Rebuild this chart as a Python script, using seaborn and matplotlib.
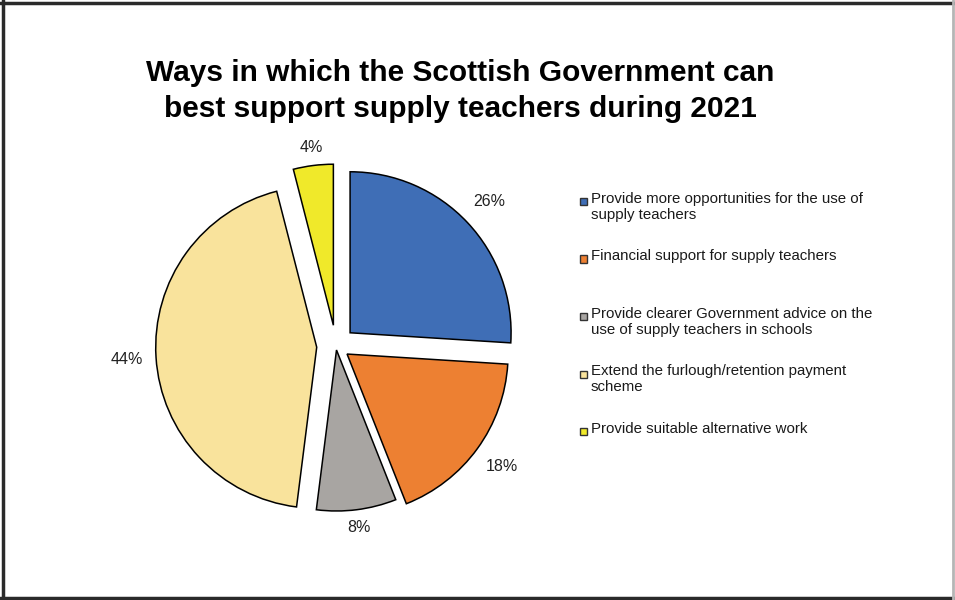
import matplotlib
matplotlib.use("Agg")
import numpy as np
import matplotlib.pyplot as plt
from matplotlib.patches import Rectangle
from matplotlib.lines import Line2D
import seaborn as sns

# ---- data ----
categories = [
    "Provide more opportunities for the use of\nsupply teachers",
    "Financial support for supply teachers",
    "Provide clearer Government advice on the\nuse of supply teachers in schools",
    "Extend the furlough/retention payment\nscheme",
    "Provide suitable alternative work",
]
values = [26, 18, 8, 44, 4]
colors = ["#3F6EB6", "#ED8032", "#A8A5A2", "#F9E39C", "#F0E92A"]
explode = [0.12, 0.085, 0.025, 0.12, 0.13]
label_dist = [1.19, 1.19, 1.11, 1.18, 1.11]
title = "Ways in which the Scottish Government can\nbest support supply teachers during 2021"

sns.set_theme(style="white")
plt.rcParams["font.family"] = ["Liberation Sans", "DejaVu Sans"]

W, H = 955, 600
fig = plt.figure(figsize=(W / 100, H / 100), dpi=100)
ax = fig.add_axes([0, 0, 1, 1])

palette = sns.color_palette(colors)
wedges, texts, autotexts = ax.pie(
    values, colors=palette, explode=explode, startangle=90, counterclock=False,
    autopct=lambda p: f"{p:.0f}%", pctdistance=1.17, radius=1,
    wedgeprops=dict(edgecolor="black", linewidth=1.1),
    textprops=dict(fontsize=11.5, color="#222222"),
)
# per-slice label distance, measured from each wedge's own apex
for w, t, d in zip(wedges, autotexts, label_dist):
    ang = np.deg2rad((w.theta1 + w.theta2) / 2)
    t.set_position((w.center[0] + d * w.r * np.cos(ang),
                    w.center[1] + d * w.r * np.sin(ang)))

# map pixel space: pie centre at (336, 346) px, radius 161 px
cx, cy, r = 336, 346, 161
ax.set_xlim(-cx / r, (W - cx) / r)
ax.set_ylim(-(H - cy) / r, cy / r)
ax.set_aspect("auto")
ax.axis("off")

fig.text(460 / W, 1 - 91 / H, title, ha="center", va="center",
         fontsize=21.5, fontweight="bold", color="black", linespacing=1.32)

# legend (first line of each entry evenly spaced)
y0 = 201
step = 57.5
for i, (lab, col) in enumerate(zip(categories, palette)):
    y = y0 + i * step
    fig.add_artist(Rectangle((580 / W, 1 - (y + 4) / H), 7 / W, 7 / H,
                             facecolor=col, edgecolor="#333333", linewidth=1.0,
                             transform=fig.transFigure))
    fig.text(591 / W, 1 - (y - 9) / H, lab, ha="left", va="top",
             fontsize=10.8, color="#1a1a1a", linespacing=1.15)

# frame
dark = "#2a2a2a"
fig.add_artist(Line2D([3 / W, 3 / W], [0, 1], color=dark, linewidth=2.5))
fig.add_artist(Line2D([0, 1], [1 - 3 / H, 1 - 3 / H], color=dark, linewidth=2.5))
fig.add_artist(Line2D([0, 1], [2 / H, 2 / H], color=dark, linewidth=2.5))
fig.add_artist(Line2D([953 / W, 953 / W], [0, 1], color="#b5b5b5", linewidth=2))

fig.savefig("out.png", dpi=100)
